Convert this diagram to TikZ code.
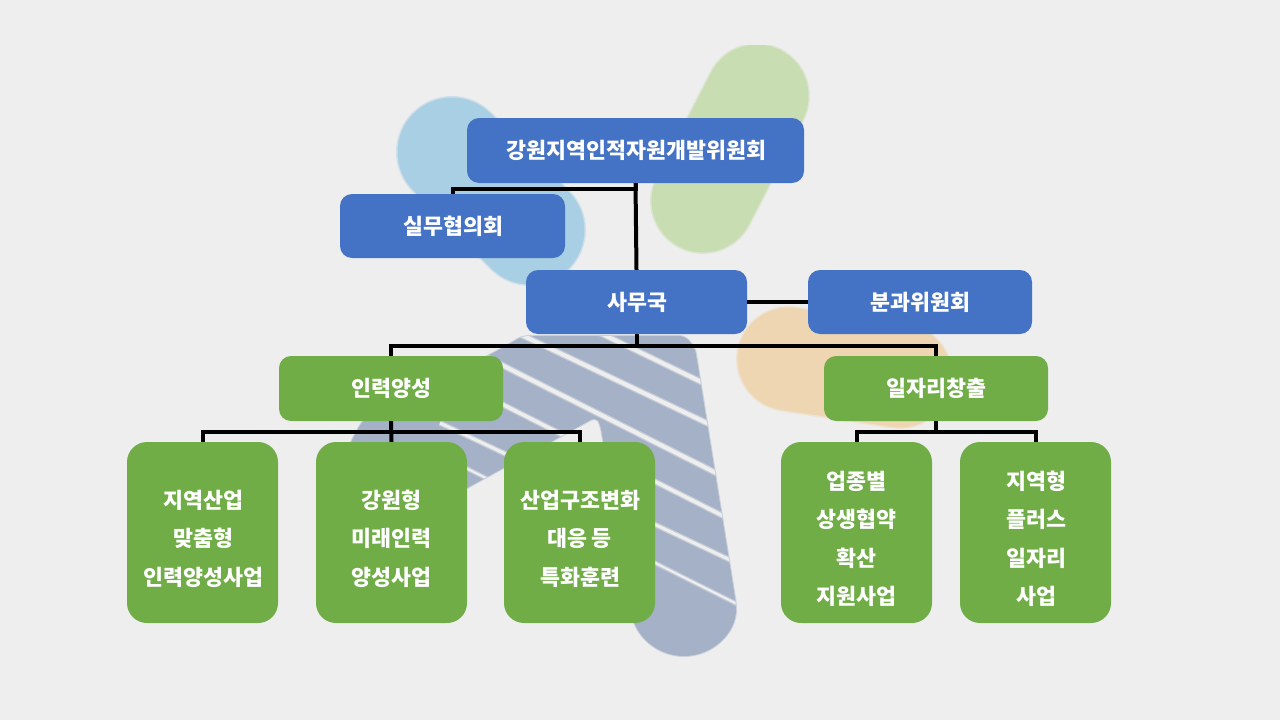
\documentclass[tikz,border=0pt]{standalone}
\usepackage{fontspec}
\setmainfont{Noto Sans CJK KR}
\definecolor{pagebg}{HTML}{EEEEEE}
\definecolor{boxblue}{HTML}{4472C4}
\definecolor{boxgreen}{HTML}{70AD47}
\definecolor{lblue}{HTML}{A9CFE5}
\definecolor{lgreen}{HTML}{C9DDB3}
\definecolor{lorange}{HTML}{EFD6B3}
\definecolor{tiecol}{HTML}{A4B1C6}
\tikzset{
  x=1pt,y=-1pt,
  box/.style={draw=none,inner sep=0pt,text=white,align=center,
    font=\bfseries\fontsize{21.7}{38.5}\selectfont},
  bluebox/.style={box,fill=boxblue,rounded corners=12pt},
  greenbox/.style={box,fill=boxgreen,rounded corners=12pt},
  tallbox/.style={box,fill=boxgreen,rounded corners=20pt,minimum width=151pt,minimum height=181pt},
  conn/.style={draw=black,line width=4pt},
  gap/.style={draw=pagebg,line cap=butt},
  softgap/.style={draw=pagebg,line cap=butt,opacity=0.45},
  tieoutline/.style={rounded corners=6pt},
}
\newcommand{\toppad}{\rule{0pt}{31pt}}
\newcommand{\lx}{\hspace*{1.4pt}}
\newcommand{\onel}[1]{\hspace*{1.4pt}\raisebox{-0.8pt}{#1}}
\newcommand{\tiepath}{(523,336) -- (685,336) -- (695,348) -- (736,604)
   arc[start angle=0,end angle=180,radius=52] -- (600,423) -- (596,417) -- (467,488)
   -- (400,525) -- (345,455) -- (352,440) -- (363,420) -- (497,351) -- cycle}
\newcommand{\tiegap}[3]{%
  \draw[softgap,line width=#3pt+2.5pt] #1 -- #2;
  \draw[gap,line width=#3pt] #1 -- #2;}
\begin{document}
\begin{tikzpicture}
\useasboundingbox (0,0) rectangle (1280,720);
\fill[pagebg] (0,0) rectangle (1280,720);
% decorative background
\begin{scope}
\clip (0,45) rectangle (1280,720);
\draw[lgreen,opacity=0.45,line width=106pt,line cap=round] (757,96) -- (703,201);
\draw[lgreen,line width=103pt,line cap=round] (757,96) -- (703,201);
\end{scope}
\draw[lblue,opacity=0.45,line width=112pt,line cap=round] (452,152) -- (530,230);
\draw[lblue,line width=109pt,line cap=round] (452,152) -- (530,230);
\draw[lorange,opacity=0.45,line width=106pt,line cap=round] (789,359) -- (900,376);
\draw[lorange,line width=103pt,line cap=round] (789,359) -- (900,376);
\draw[tiecol,opacity=0.45,line width=2pt,tieoutline] \tiepath;
\begin{scope}
\clip[tieoutline] \tiepath;
\fill[tiecol] (300,300) rectangle (800,700);
\tiegap{(596,331)}{(720,391)}{4}
\tiegap{(490,320)}{(730,434)}{4}
\tiegap{(480,354)}{(740,485)}{4}
\tiegap{(480,393)}{(745,527)}{3.5}
\tiegap{(440,423)}{(745,567)}{3}
\tiegap{(440,455)}{(745,608)}{2}
\end{scope}
% boxes
\node[bluebox,minimum width=337pt,minimum height=65pt] (top) at (635.5,150.5) {\onel{강원지역인적자원개발위원회}};
\node[bluebox,minimum width=225pt,minimum height=64pt] (sil) at (452.5,226) {\onel{실무협의회}};
\node[bluebox,minimum width=221pt,minimum height=64pt] (sam) at (636.5,302) {\onel{사무국}};
\node[bluebox,minimum width=224pt,minimum height=64pt] (bun) at (920,302) {\onel{분과위원회}};
\node[greenbox,minimum width=224pt,minimum height=65pt] (inr) at (391,388.5) {\onel{인력양성}};
\node[greenbox,minimum width=224pt,minimum height=65pt] (ilj) at (936,388.5) {\onel{일자리창출}};
\node[tallbox] (a1) at (202.5,532.5) {\toppad\lx 지역산업\\\lx 맞춤형\\\lx 인력양성사업};
\node[tallbox] (a2) at (391.5,532.5) {\toppad 강원형\\미래인력\\양성사업};
\node[tallbox] (a3) at (579.5,532.5) {\toppad\lx 산업구조변화\\대응 등\\\lx 특화훈련};
\node[tallbox] (b1) at (856.5,532.5) {\toppad 업종별\\상생협약\\확산\\지원사업};
\node[tallbox] (b2) at (1035.5,532.5) {\toppad\lx 지역형\\\lx 플러스\\\lx 일자리\\\lx 사업};
% connectors
\draw[conn] (top.south) -- ++(0,5.5) -| (sil.north);
\draw[conn] (top.south) -- (sam.north);
\draw[conn] (sam.east) -- (bun.west);
\draw[conn] (sam.south) -- ++(0,11.5) -| (inr.north);
\draw[conn] (sam.south) -- ++(0,11.5) -| (ilj.north);
\draw[conn] (inr.south) -- (a2.north);
\draw[conn] (inr.south) -- ++(0,11) -| (a1.north);
\draw[conn] (inr.south) -- ++(0,11) -| (a3.north);
\draw[conn] (ilj.south) -- ++(0,11) -| (b1.north);
\draw[conn] (ilj.south) -- ++(0,11) -| (b2.north);
\end{tikzpicture}
\end{document}
